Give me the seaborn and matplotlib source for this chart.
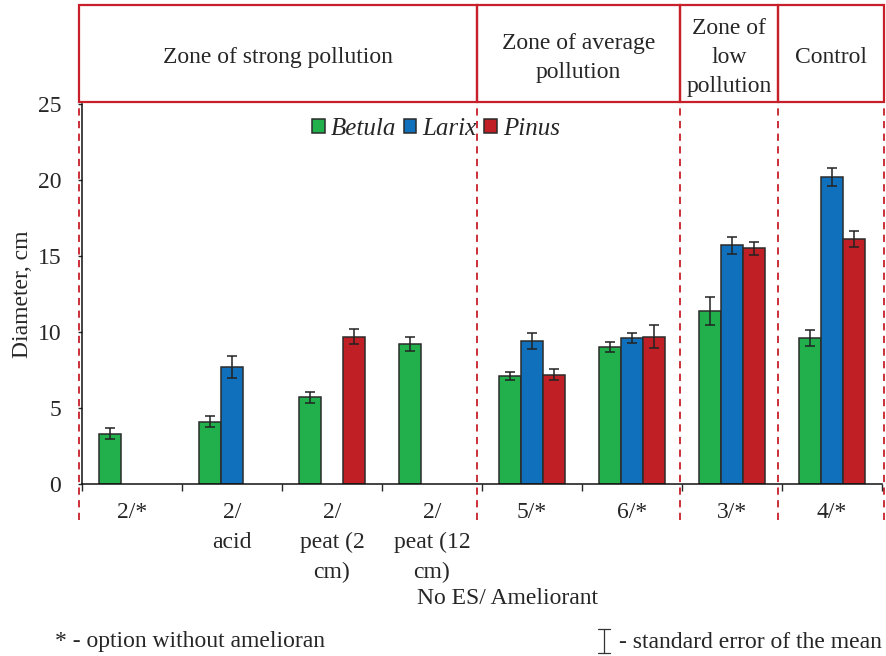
import pandas as pd
import numpy as np
import matplotlib
matplotlib.use("Agg")
import matplotlib.pyplot as plt
import matplotlib.transforms as mtransforms
from matplotlib.patches import Rectangle
from matplotlib.lines import Line2D
import seaborn as sns

# data
categories = ['2/*', '2/\nacid', '2/\npeat (2\ncm)', '2/\npeat (12\ncm)', '5/*', '6/*', '3/*', '4/*']
species = ['Betula', 'Larix', 'Pinus']
betula = [3.3, 4.1, 5.7, 9.2, 7.1, 9.0, 11.4, 9.6]
larix = [None, 7.7, None, None, 9.4, 9.6, 15.7, 20.2]
pinus = [None, None, 9.7, None, 7.2, 9.7, 15.5, 16.1]
betula_se = [0.36, 0.38, 0.37, 0.45, 0.26, 0.32, 0.92, 0.54]
larix_se = [None, 0.70, None, None, 0.52, 0.34, 0.56, 0.59]
pinus_se = [None, None, 0.50, None, 0.34, 0.75, 0.43, 0.52]
zones = ['Zone of strong pollution', 'Zone of average\npollution', 'Zone of\nlow\npollution', 'Control']
zone_edges = [-0.53, 3.45, 5.48, 6.46, 7.52]
colors = ['#21b04b', '#1170bb', '#c01f26']

rows = []
for sp, vals, errs in zip(species, [betula, larix, pinus], [betula_se, larix_se, pinus_se]):
    for cat, v, e in zip(categories, vals, errs):
        if v is not None:
            rows.append({'cat': cat, 'species': sp, 'diam': v, 'se': e})
df = pd.DataFrame(rows)

sns.set_style('white')
plt.rcParams['font.family'] = ['Liberation Serif', 'DejaVu Serif']
red = '#c8202a'

fig = plt.figure(figsize=(8.86, 6.56), dpi=100)
ax = fig.add_axes([82/886, 1 - 484/656, 800/886, 380/656])

sns.barplot(data=df, x='cat', y='diam', hue='species', order=categories, hue_order=species,
            palette=colors, width=0.66, errorbar=None, edgecolor='#2b2b2b', linewidth=1.1,
            saturation=1, ax=ax)

# standard error whiskers on top of each bar
for sp, cont in zip(species, ax.containers):
    sub = df[df['species'] == sp].set_index('cat').reindex(categories).dropna()
    xs = [b.get_x() + b.get_width() / 2 for b in cont]
    hs = [b.get_height() for b in cont]
    ax.errorbar(xs, hs, yerr=sub['se'].values, fmt='none', ecolor='#222222',
                elinewidth=1.1, capsize=3.5, capthick=1.1, zorder=5)

ax.set_ylim(0, 25)
ax.set_xlim(-0.5, 7.5)
ax.set_yticks([0, 5, 10, 15, 20, 25])
ax.set_ylabel('Diameter, cm', fontsize=17, labelpad=3)
ax.set_xlabel('')
ax.set_xticks(range(len(categories)))
ax.set_xticklabels(categories, fontsize=17, linespacing=1.55)
ax.set_xticks(np.arange(-0.5, 8, 1), minor=True)
ax.tick_params(axis='x', which='major', length=0, pad=13)
ax.tick_params(axis='x', which='minor', length=5, width=1, direction='out', bottom=True)
ax.tick_params(axis='y', length=3, width=1, direction='out', left=True, labelsize=17, pad=12)
sns.despine(ax=ax, top=True, right=True)
for s in ['left', 'bottom']:
    ax.spines[s].set_color('#111111')
    ax.spines[s].set_linewidth(1.1)

handles, labels = ax.get_legend_handles_labels()
ax.legend(handles, labels, ncol=3, frameon=False, loc='center', bbox_to_anchor=(0.4425, 0.935),
          prop={'family': 'Liberation Serif', 'style': 'italic', 'size': 18},
          handlelength=0.5, handleheight=0.5, handletextpad=0.25, columnspacing=0.3)

# zone header boxes and dashed separators
trans = mtransforms.blended_transform_factory(ax.transData, ax.transAxes)
box_bottom = 1.005
box_top = 1.26
for i, name in enumerate(zones):
    x0, x1 = zone_edges[i], zone_edges[i + 1]
    ax.add_patch(Rectangle((x0, box_bottom), x1 - x0, box_top - box_bottom, transform=trans,
                           fill=False, edgecolor=red, linewidth=1.6, clip_on=False))
    ax.text((x0 + x1) / 2, 1.122, name, transform=trans,
            ha='center', va='center', fontsize=17, linespacing=1.5)
for xe in zone_edges:
    ax.plot([xe, xe], [-0.095, box_bottom], transform=trans, color=red, lw=1.3,
            ls=(0, (4, 3)), clip_on=False, zorder=0)

fig.text(507/886, 1 - 598/656, 'No ES/ Ameliorant', ha='center', va='center', fontsize=17)
fig.text(55/886, 1 - 642/656, '* - option without amelioran', ha='left', va='center', fontsize=17)
fig.text(619/886, 1 - 642/656, '- standard error of the mean', ha='left', va='center', fontsize=17)
# I-beam symbol for the standard error note
xc, y0, y1, w = 604, 629, 653, 6
for (xa, ya, xb, yb) in [(xc, y0, xc, y1), (xc - w, y0, xc + w, y0), (xc - w, y1, xc + w, y1)]:
    fig.add_artist(Line2D([xa/886, xb/886], [1 - ya/656, 1 - yb/656], color='#333333', lw=0.9))

fig.savefig('out.png', dpi=100)
